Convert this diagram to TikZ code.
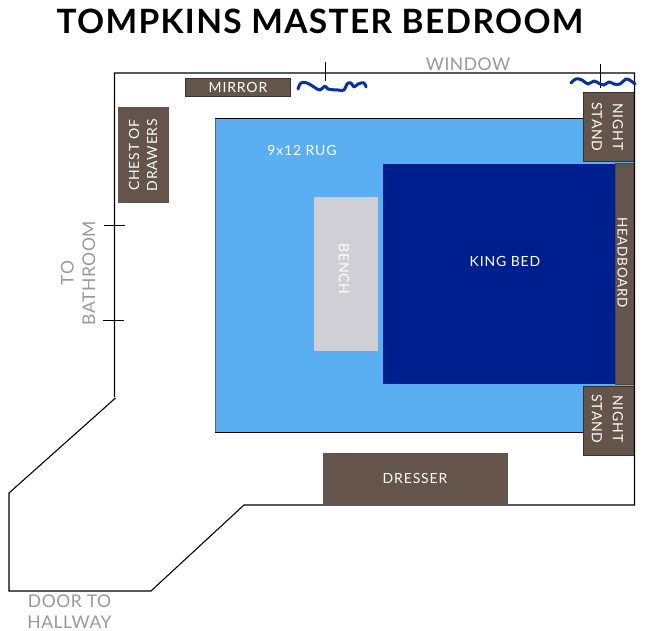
\documentclass[tikz,border=0pt]{standalone}
\usepackage{fontspec}
\setmainfont{Lato}
\definecolor{brownf}{HTML}{65544A}
\definecolor{rugc}{HTML}{5AAEF2}
\definecolor{bedc}{HTML}{001F8F}
\definecolor{benchc}{HTML}{D0CFD6}
\definecolor{labelg}{HTML}{999999}
\definecolor{wavec}{HTML}{0A2FA0}
\newcommand{\furnfont}{\fontsize{14}{15}\selectfont\addfontfeature{LetterSpace=6}}
\tikzset{
  wall/.style={draw=black,line width=1.1pt,line join=miter},
  furn/.style={draw=#1,fill=brownf,line width=.7pt,text=white,inner sep=0pt,align=center,font=\furnfont},
  furn/.default=black!80,
  floorlab/.style={text=labelg,align=center,inner sep=0pt,font=\fontsize{17.5}{21.5}\selectfont\addfontfeature{LetterSpace=3}},
  wave/.style={draw=wavec,line width=3pt,line cap=round,line join=round},
  tick/.style={draw=black,line width=.8pt},
}
\begin{document}
\begin{tikzpicture}[x=1pt,y=-1pt]
\useasboundingbox (0,0) rectangle (650,631);
\fill[white] (0,0) rectangle (650,631);
% title
\node[inner sep=0pt,font=\fontsize{33.5}{38}\selectfont\bfseries] (title) at (320,21) {\addfontfeature{LetterSpace=4}TOMPKINS MASTER BEDROOM};
% rug and bed
\path[fill=rugc] (215,119) rectangle (634,432);
\draw[black,line width=1pt] (215,119) -- (583,119);
\draw[black,line width=1pt] (215,432) -- (583,432);
\draw[black!60,line width=1pt] (215,119) -- (215,432);
\node[fill=bedc,minimum width=232pt,minimum height=220pt,inner sep=0pt] (bed) at (499,274) {};
\node[text=white,inner sep=0pt,font=\furnfont] (bedlabel) at (505,261) {KING BED};
\node[fill=benchc,minimum width=64pt,minimum height=154pt,inner sep=0pt] (bench) at (346,274) {};
\node[text=white,inner sep=0pt,font=\furnfont,rotate=-90] (benchlabel) at (344,269) {BENCH};
\node[text=white,inner sep=0pt,font=\furnfont] (rug) at (302,150) {9x12 RUG};
% furniture
\node[furn,draw=brownf!80!black,minimum width=19pt,minimum height=221pt] (head) at (624.5,274) {};
\node[text=white,inner sep=0pt,font=\fontsize{13.5}{15}\selectfont\addfontfeature{LetterSpace=5},rotate=-90] (headlabel) at (622.5,262.5) {HEADBOARD};
\node[furn,minimum width=51pt,minimum height=69pt] (nsa) at (608.5,126.5) {};
\node[text=white,inner sep=0pt,align=center,font=\furnfont,rotate=-90] (nsalabel) at (607.5,127) {NIGHT\\[6pt]STAND};
\node[furn,minimum width=51pt,minimum height=69pt] (nsb) at (608.5,420.5) {};
\node[text=white,inner sep=0pt,align=center,font=\furnfont,rotate=-90] (nsblabel) at (607.5,419) {NIGHT\\[6pt]STAND};
\node[furn=brownf,minimum width=184pt,minimum height=50pt] (dresser) at (415,478) {DRESSER};
\node[furn=brownf,minimum width=50pt,minimum height=95pt] (chest) at (143,155) {};
\node[text=white,inner sep=0pt,align=center,font=\furnfont,rotate=90] (chestlabel) at (143,155) {CHEST OF\\[3pt]DRAWERS};
\node[furn,minimum width=105pt,minimum height=18pt] (mirror) at (238,87) {MIRROR};
% walls
\draw[wall] (114.5,397) -- (114.5,73) -- (634.5,73) -- (634.5,505) -- (244,505) -- (151,591) -- (9,591) -- (9,493) -- (115.5,398);
% window
\draw[tick] (325,62) -- (325,81);
\draw[tick] (600,64) -- (600,88);
\draw[wave] plot[smooth,tension=.7] coordinates {(298,89)(301,83)(307,83)(314,87)(320,90)(325,86)(328,89)(338,90)(344,90)(347,84)(351,83)(354,87)(358,84)(364,83)(366,87)};
\draw[wave] plot[smooth,tension=.7] coordinates {(571,83)(576,79)(582,80)(588,84)(594,81)(600,84)(604,85)(609,82)(614,84)(620,84)(626,79)(631,81)(635,84)};
% door ticks
\draw[tick] (104,225) -- (125,225);
\draw[tick] (103,320) -- (124,320);
% floor labels
\node[floorlab] (window) at (468,64) {WINDOW};
\node[floorlab,rotate=90] (bath) at (78,273) {TO\\BATHROOM};
\node[floorlab] (door) at (69.5,611.5) {DOOR TO\\HALLWAY};
\end{tikzpicture}
\end{document}
